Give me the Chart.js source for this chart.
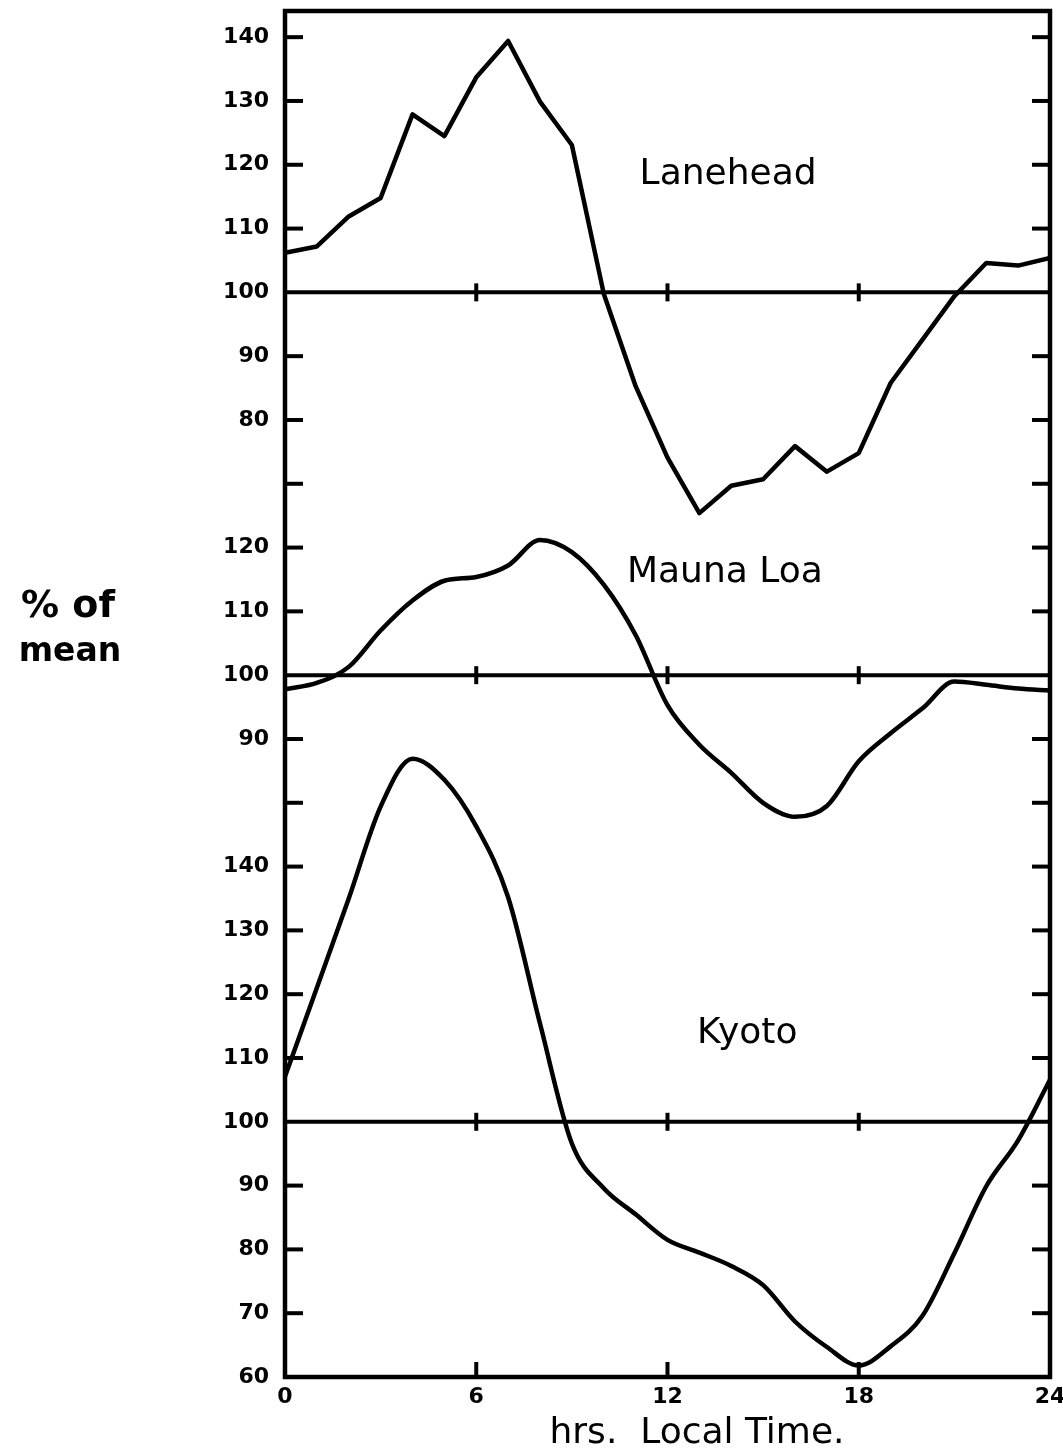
<!DOCTYPE html>
<html><head><meta charset="utf-8">
<script src="https://cdn.jsdelivr.net/npm/chart.js@4.4.0/dist/chart.umd.min.js"></script>
<style>html,body{margin:0;padding:0;background:#fff}#wrap{width:1063px;height:1456px;position:relative}</style>
</head><body><div id="wrap"><canvas id="c" width="1063" height="1456"></canvas></div>
<script>
// ---- data (percent of mean, hourly local time) ----
const hours = [0,1,2,3,4,5,6,7,8,9,10,11,12,13,14,15,16,17,18,19,20,21,22,23,24];
const laneheadPct = [106.2,107.2,111.9,114.8,127.9,124.5,133.7,139.4,129.9,123.1,99.8,85.3,74.1,65.4,69.7,70.7,75.9,71.9,74.8,85.8,92.6,99.4,104.6,104.2,105.4];
const maunaLoaPct = [97.8,98.8,101.3,107.0,111.7,114.8,115.4,117.2,121.2,119.3,114.2,106.3,95.3,89.1,84.7,80.0,77.8,79.5,86.5,90.9,94.8,99.0,98.5,97.9,97.6];
const kyotoPct = [107.1,121.0,135.0,149.4,156.9,153.6,146.3,135.2,115.4,96.6,89.6,85.5,81.5,79.5,77.4,74.4,68.7,64.7,61.8,64.8,69.6,79.4,89.9,97.1,106.6];
const stationNames = ['Lanehead','Mauna Loa','Kyoto'];
// where each panel's 100 % line sits on the shared vertical scale
const panelBases = [170,110,40];
const yTickValues = [0,10,20,30,40,50,60,70,80,90,100,110,120,130,140,150,160,170,180,190,200,210];
const yTickLabels = ['60','70','80','90','100','110','120','130','140','','90','100','110','120','','80','90','100','110','120','130','140'];
const xTickValues = [0,6,12,18,24];
const xTickLabels = ['0','6','12','18','24'];
const xTitle = 'hrs.  Local Time.';
const yTitle = ['% of','mean'];
// label anchor positions in data coordinates (hour, shared-scale value)
const nameAnchors = [[13.9,188.5],[13.8,126.0],[14.5,53.8]];

const series = [laneheadPct, maunaLoaPct, kyotoPct];
function toPoints(vals, base){ return vals.map((v,i)=>({x:hours[i], y:v - 100 + base})); }

const datasets = series.map((vals,i)=>({
  label: stationNames[i],
  data: toPoints(vals, panelBases[i]),
  borderColor:'#000', borderWidth:4.5, pointRadius:0, fill:false,
  tension: i===0 ? 0 : 0.4,
  cubicInterpolationMode: i===0 ? 'default' : 'monotone',
  borderJoinStyle:'round', borderCapStyle:'round'
}));
panelBases.forEach(b=>{
  datasets.push({label:'base'+b, data:[{x:0,y:b},{x:24,y:b}], borderColor:'#000', borderWidth:4, pointRadius:0, fill:false});
});

function seg(ctx,x1,y1,x2,y2){ctx.beginPath();ctx.moveTo(x1,y1);ctx.lineTo(x2,y2);ctx.stroke();}

const decor = {
  id:'decor',
  afterDatasetsDraw(chart){
    const {ctx, chartArea:a, scales:{x,y}} = chart;
    ctx.save();
    ctx.strokeStyle='#000'; ctx.fillStyle='#000'; ctx.lineWidth=4.5;
    ctx.strokeRect(a.left,a.top,a.right-a.left,a.bottom-a.top);
    ctx.lineWidth=4;
    y.ticks.forEach(t=>{
      if (t.value===0 || panelBases.includes(t.value)) return;
      const py=y.getPixelForValue(t.value);
      seg(ctx,a.left,py,a.left+18,py);
      seg(ctx,a.right-18,py,a.right,py);
    });
    [6,12,18].forEach(h=>{
      const px=x.getPixelForValue(h);
      seg(ctx,px,a.bottom,px,a.bottom-15);
      panelBases.forEach(b=>{const py=y.getPixelForValue(b); seg(ctx,px,py-9,px,py+9);});
    });
    ctx.font='36px "DejaVu Sans"'; ctx.textAlign='center'; ctx.textBaseline='middle';
    nameAnchors.forEach((p,i)=>{ ctx.fillText(stationNames[i], x.getPixelForValue(p[0]), y.getPixelForValue(p[1])); });
    ctx.fillText(xTitle, 697, 1434);
    ctx.font='bold 38px "DejaVu Sans"';
    ctx.fillText(yTitle[0], 68, 607);
    ctx.font='bold 33px "DejaVu Sans"';
    ctx.fillText(yTitle[1], 70, 652);
    ctx.restore();
  }
};

function noPad(s){ s.paddingTop=0; s.paddingBottom=0; s.paddingLeft=0; s.paddingRight=0; }

new Chart(document.getElementById('c'), {
  type:'line',
  data:{datasets},
  options:{
    responsive:false, animation:false, devicePixelRatio:1,
    layout:{padding:{top:11,right:13,left:0,bottom:0}},
    plugins:{legend:{display:false}, tooltip:{enabled:false}},
    scales:{
      x:{type:'linear', min:0, max:24,
        afterFit(s){ s.height = 79; noPad(s); },
        afterBuildTicks(s){ s.ticks = xTickValues.map(v=>({value:v})); },
        grid:{display:false, drawTicks:false}, border:{display:false},
        ticks:{padding:7, color:'#000', maxRotation:0, font:{family:'DejaVu Sans', weight:'bold', size:22},
          callback:(v)=>{const i=xTickValues.indexOf(v); return i<0?'':xTickLabels[i];}}
      },
      y:{type:'linear', min:0, max:214.1,
        afterFit(s){ s.width = 285; noPad(s); },
        afterBuildTicks(s){ s.ticks = yTickValues.map(v=>({value:v})); },
        grid:{display:false, drawTicks:false}, border:{display:false},
        ticks:{padding:16, color:'#000', autoSkip:false, font:{family:'DejaVu Sans', weight:'bold', size:22},
          callback:(v)=>{const i=yTickValues.indexOf(v); return i<0?'':yTickLabels[i];}}
      }
    }
  },
  plugins:[decor]
});
</script></body></html>
